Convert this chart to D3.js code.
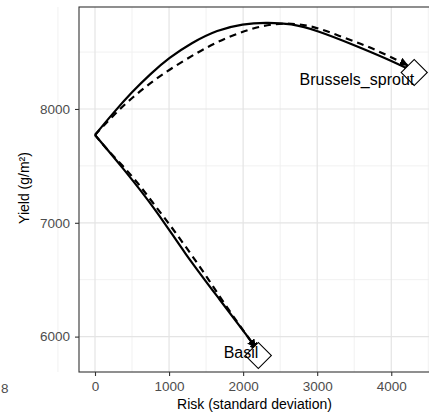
<!DOCTYPE html>
<html><head><meta charset="utf-8">
<script src="https://cdn.jsdelivr.net/npm/d3@7"></script>
<style>body{margin:0;background:#fff}svg{display:block}</style>
</head><body>
<script>
const xTicks = [0, 1000, 2000, 3000, 4000];
const yTicks = [6000, 7000, 8000];
const xMinor = [-500, 500, 1500, 2500, 3500, 4500];
const yMinor = [6500, 7500, 8500];

const brusselsSolid = [[0,7772],[250,7968],[500,8150],[750,8310],[1000,8450],[1300,8580],[1650,8695],[2000,8748],[2300,8760],[2650,8752],[3000,8690],[3500,8562],[4000,8425],[4280,8335]];
const brusselsDashed = [[0,7772],[270,7960],[520,8110],[780,8245],[1050,8365],[1380,8495],[1650,8590],[1950,8670],[2260,8735],[2600,8758],[2950,8730],[3300,8640],[3650,8560],[3950,8470],[4220,8385]];
const basilSolid = [[0,7772],[380,7480],[840,7100],[1200,6740],[1690,6320],[2120,5950],[2195,5875]];
const basilDashed = [[0,7772],[160,7645],[370,7505],[580,7350],[770,7185],[985,7005],[1180,6830],[1380,6648],[1555,6480],[1730,6305],[1920,6128],[2095,5970],[2165,5905]];
const crops = ["Brussels_sprout", "Basil"];
const cropRisk = [4310, 2205];
const cropYield = [8320, 5834];

const W = 429, H = 420;
const svg = d3.select("body").append("svg").attr("width", W).attr("height", H);
const L = 79, T = 7, R = 432, B = 372;
const x = d3.scaleLinear().domain([-216, 4550]).range([L, R]);
const y = d3.scaleLinear().domain([5689, 8896]).range([B, T]);
const ff = "Liberation Sans, Arial, sans-serif";

const defs = svg.append("defs");
defs.append("clipPath").attr("id","clip").append("rect").attr("x",L).attr("y",T).attr("width",R-L).attr("height",B-T);
defs.append("marker").attr("id","arr").attr("viewBox","0 0 10 10").attr("refX",9).attr("refY",5)
  .attr("markerWidth",4).attr("markerHeight",4).attr("orient","auto").attr("markerUnits","strokeWidth")
  .append("path").attr("d","M0,0L10,5L0,10Z").attr("fill","#000");

const g = svg.append("g");
g.selectAll(".vmin").data(xMinor).join("line").attr("x1",d=>x(d)).attr("x2",d=>x(d)).attr("y1",T).attr("y2",B).attr("stroke","#efefef").attr("stroke-width",0.9);
g.selectAll(".hmin").data(yMinor).join("line").attr("y1",d=>y(d)).attr("y2",d=>y(d)).attr("x1",L).attr("x2",R).attr("stroke","#efefef").attr("stroke-width",0.9);
g.selectAll(".vmaj").data(xTicks).join("line").attr("x1",d=>x(d)).attr("x2",d=>x(d)).attr("y1",T).attr("y2",B).attr("stroke","#e4e4e4").attr("stroke-width",1.2);
g.selectAll(".hmaj").data(yTicks).join("line").attr("y1",d=>y(d)).attr("y2",d=>y(d)).attr("x1",L).attr("x2",R).attr("stroke","#e4e4e4").attr("stroke-width",1.2);

const line = d3.line().x(d=>x(d[0])).y(d=>y(d[1])).curve(d3.curveBasis);
const pg = svg.append("g").attr("clip-path","url(#clip)");
[[brusselsSolid,null],[basilSolid,null],[brusselsDashed,"7,5"],[basilDashed,"7,5"]].forEach(([d,dash])=>{
  pg.append("path").datum(d).attr("d",line).attr("fill","none").attr("stroke","#000")
    .attr("stroke-width",2.2).attr("stroke-dasharray",dash).attr("marker-end","url(#arr)");
});
const sym = d3.symbol().type(d3.symbolSquare).size(340);
pg.selectAll(".dia").data(crops).join("path")
  .attr("d", sym).attr("transform",(d,i)=>`translate(${x(cropRisk[i])},${y(cropYield[i])}) rotate(45)`)
  .attr("fill","#fff").attr("stroke","#000").attr("stroke-width",1.1);
const ldy = [12.5, 3];
pg.selectAll(".lab").data(crops).join("text")
  .attr("x",(d,i)=>x(cropRisk[i])).attr("y",(d,i)=>y(cropYield[i])+ldy[i])
  .attr("text-anchor","end").attr("font-family",ff).attr("font-size",16)
  .attr("fill","#000").text(d=>d);

svg.append("rect").attr("x",L).attr("y",T).attr("width",R-L).attr("height",B-T).attr("fill","none").attr("stroke","#333").attr("stroke-width",1.1);

const xa = svg.append("g").attr("transform",`translate(0,${B})`).call(d3.axisBottom(x).tickValues(xTicks).tickSize(4).tickPadding(5).tickFormat(d3.format("d")));
const ya = svg.append("g").attr("transform",`translate(${L},0)`).call(d3.axisLeft(y).tickValues(yTicks).tickSize(4).tickPadding(5).tickFormat(d3.format("d")));
[xa,ya].forEach(a=>{a.select(".domain").remove();a.selectAll("line").attr("stroke","#333").attr("stroke-width",1.1);
  a.selectAll("text").attr("font-family",ff).attr("font-size",13.5).attr("fill","#4d4d4d");});

svg.append("text").attr("x",254.5).attr("y",409).attr("text-anchor","middle").attr("font-family",ff).attr("font-size",14).attr("fill","#000").text("Risk (standard deviation)");
svg.append("text").attr("transform",`translate(29,188) rotate(-90)`).attr("text-anchor","middle").attr("font-family",ff).attr("font-size",14).attr("fill","#000").text("Yield (g/m²)");
svg.append("text").attr("x",1).attr("y",393).attr("font-family",ff).attr("font-size",13.5).attr("fill","#4d4d4d").text("8");
</script>
</body></html>
